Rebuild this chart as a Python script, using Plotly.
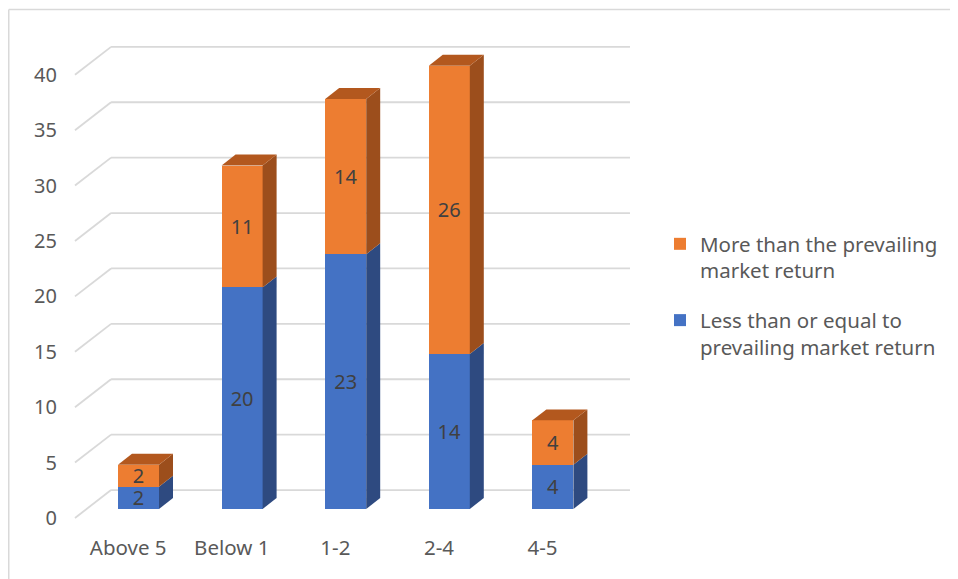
import plotly.graph_objects as go

# ---- data ----
categories = ["Above 5", "Below 1", "1-2", "2-4", "4-5"]
less_equal = [2, 20, 23, 14, 4]        # Less than or equal to prevailing market return
more_than = [2, 11, 14, 26, 4]         # More than the prevailing market return
y_ticks = [0, 5, 10, 15, 20, 25, 30, 35, 40]

# ---- style / geometry ----
FONT = "Noto Sans"
BLUE, BLUE_SIDE = "#4472C4", "#2E4A80"
ORANGE, ORANGE_SIDE, ORANGE_TOP = "#ED7D31", "#9C4E1C", "#B3581E"
GRID = "#D9D9D9"
BAR_W = 0.396      # front face width (category units)
DX, DY = 0.135, 0.99   # depth offset of bars
WALL_DY = 1.71     # back wall offset (value units)
LABEL_DY = -0.81   # label plane offset
SLANT_X0, WALL_X0, WALL_X1 = -0.613, -0.265, 4.744

OFF = 8  # page body margin
W_PX, H_PX = 958, 579
L, R, T, B = 58 - OFF, 640 - OFF, 30 - OFF, 533 - OFF
px_per_cat, px_per_val = 103.6, 11.08
x0_px, y0_px = 138.5 - OFF, 509 - OFF
xr = [(L - x0_px) / px_per_cat, (R - x0_px) / px_per_cat]
yr = [(y0_px - B) / px_per_val, (y0_px - T) / px_per_val]

idx = list(range(len(categories)))
fig = go.Figure()

fig.add_trace(go.Bar(
    x=idx, y=less_equal, width=BAR_W, name="Less than or equal to<br>prevailing market return",
    marker=dict(color=BLUE, line=dict(width=0)), text=[str(v) for v in less_equal],
    textposition="inside", insidetextanchor="middle", constraintext="none", textangle=0,
    textfont=dict(family=FONT, size=20, color="#404040"), legendgroup="a", legendrank=2))
fig.add_trace(go.Bar(
    x=idx, y=more_than, width=BAR_W, name="More than the prevailing<br>market return",
    marker=dict(color=ORANGE, line=dict(width=0)), text=[str(v) for v in more_than],
    textposition="inside", insidetextanchor="middle", constraintext="none", textangle=0,
    textfont=dict(family=FONT, size=20, color="#404040"), legendgroup="b", legendrank=1))

def poly(xs, ys, color):
    fig.add_trace(go.Scatter(x=xs + [xs[0]], y=ys + [ys[0]], mode="lines", fill="toself",
                             fillcolor=color, line=dict(width=0, color=color),
                             hoverinfo="skip", showlegend=False))

for i, (a, b) in enumerate(zip(less_equal, more_than)):
    xr_ = i + BAR_W / 2
    xl_ = i - BAR_W / 2
    poly([xr_, xr_ + DX, xr_ + DX, xr_], [0, DY, a + DY, a], BLUE_SIDE)
    poly([xr_, xr_ + DX, xr_ + DX, xr_], [a, a + DY, a + b + DY, a + b], ORANGE_SIDE)
    top = a + b
    poly([xl_, xl_ + DX, xr_ + DX, xr_], [top, top + DY, top + DY, top], ORANGE_TOP)

# back-wall gridlines (shapes, below traces)
shapes = []
for v in y_ticks:
    shapes.append(dict(type="line", xref="x", yref="y", layer="below",
                       x0=SLANT_X0, y0=v + LABEL_DY, x1=WALL_X0, y1=v + WALL_DY,
                       line=dict(color=GRID, width=1.8)))
    shapes.append(dict(type="line", xref="x", yref="y", layer="below",
                       x0=WALL_X0, y0=v + WALL_DY, x1=WALL_X1, y1=v + WALL_DY,
                       line=dict(color=GRID, width=1.8)))

# chart border (top and left)
def px2paper_x(p): return (p - L) / (R - L)
def px2paper_y(p): return (B - p) / (B - T)
shapes.append(dict(type="line", xref="paper", yref="paper", x0=px2paper_x(0.75), x1=px2paper_x(W_PX),
                   y0=px2paper_y(1.5), y1=px2paper_y(1.5), line=dict(color="#D9D9D9", width=1.5)))
shapes.append(dict(type="line", xref="paper", yref="paper", x0=px2paper_x(0.75), x1=px2paper_x(0.75),
                   y0=px2paper_y(1.5), y1=px2paper_y(H_PX), line=dict(color="#D9D9D9", width=1.5)))

fig.update_layout(
    width=W_PX, height=H_PX, barmode="stack",
    margin=dict(l=L, r=W_PX - R, t=T, b=H_PX - B, autoexpand=False),
    paper_bgcolor="white", plot_bgcolor="white",
    font=dict(family=FONT, size=20, color="#595959"),
    shapes=shapes,
    xaxis=dict(range=xr, showgrid=False, zeroline=False, showline=False,
               tickmode="array", tickvals=[i - 0.1 for i in idx], ticktext=categories,
               tickfont=dict(family=FONT, size=20.5, color="#595959"), ticks=""),
    yaxis=dict(range=yr, showgrid=False, zeroline=False, showline=False,
               tickmode="array", tickvals=[v + LABEL_DY for v in y_ticks],
               ticktext=[str(v) for v in y_ticks],
               tickfont=dict(family=FONT, size=20, color="#595959"), ticks=""),
    legend=dict(xref="container", yref="container", x=652 / W_PX, y=1 - 216 / H_PX,
                xanchor="left", yanchor="top", traceorder="grouped",
                tracegroupgap=20, valign="top",
                font=dict(family=FONT, size=20.5, color="#595959")),
    showlegend=True,
)

fig.write_html("out.html")
